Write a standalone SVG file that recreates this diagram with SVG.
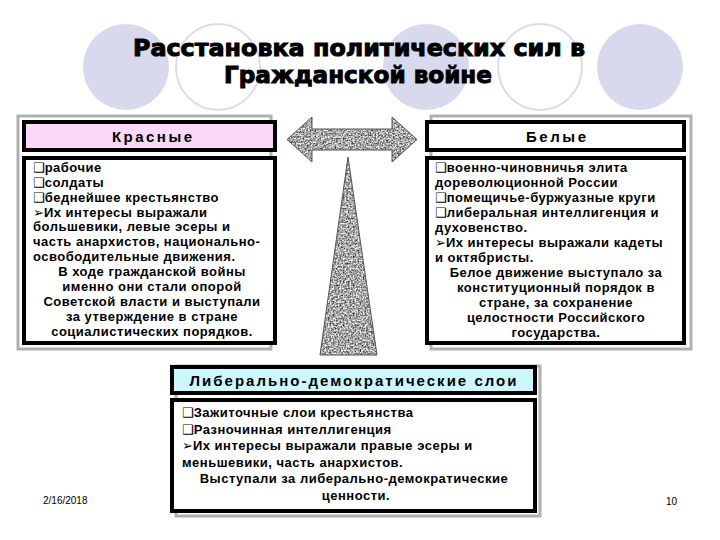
<svg xmlns="http://www.w3.org/2000/svg" width="720" height="540" viewBox="0 0 720 540">
<style>
.title{font-family:"DejaVu Sans","Liberation Sans",sans-serif;font-weight:bold;font-size:23px;fill:#000;stroke:#000;stroke-width:1px;text-anchor:middle}
.hdr{font-family:"Liberation Sans",Arial,sans-serif;font-weight:bold;font-size:15px;fill:#000;text-anchor:middle}
.body{font-family:"Liberation Sans",Arial,sans-serif;font-weight:bold;font-size:13px;fill:#000;letter-spacing:0.5px}
.c{text-anchor:middle}
.bul{font-family:"DejaVu Sans",sans-serif;font-weight:normal;font-size:13px;letter-spacing:0}
.box{stroke:#000;stroke-width:4}
.frame{fill:none;stroke:#b0b0b0;stroke-width:3}
.dot{fill:#d9d9ee}
.ring{fill:#fff;stroke:#dcdce6;stroke-width:2}
.foot{font-family:"Liberation Sans",Arial,sans-serif;font-size:10px;fill:#000}
</style>
<defs>
<filter id="granite" x="0" y="0" width="100%" height="100%" color-interpolation-filters="sRGB">
<feTurbulence type="fractalNoise" baseFrequency="0.6" numOctaves="3" seed="5" result="n"/>
<feColorMatrix in="n" type="matrix" values="1.4 0 0 0 -0.05  1.4 0 0 0 -0.05  1.4 0 0 0 -0.05  0 0 0 0 1" result="g"/>
<feComposite in="g" in2="SourceGraphic" operator="in"/>
</filter>
</defs>
<rect width="720" height="540" fill="#fff"/>
<g id="decor">
<ellipse class="dot" cx="126" cy="67" rx="43" ry="43"/>
<ellipse class="ring" cx="218" cy="67" rx="42" ry="43"/>
<ellipse class="dot" cx="426" cy="67" rx="43" ry="43"/>
<ellipse class="ring" cx="540" cy="67" rx="42" ry="43"/>
<ellipse class="dot" cx="640" cy="67" rx="43" ry="43"/>
</g>
<g id="title">
<text class="title" x="359" y="56" textLength="452" lengthAdjust="spacingAndGlyphs">Расстановка политических сил в</text>
<text class="title" x="358" y="83" textLength="268" lengthAdjust="spacingAndGlyphs">Гражданской войне</text>
</g>
<g id="connectors">
<g filter="url(#granite)">
<polygon points="287,139.5 312,117 312,129 392,129 392,117 417,139.5 392,162 392,150 312,150 312,162" fill="#999"/>
<polygon points="348,157 377,355 320,355" fill="#999"/>
</g>
<polygon points="287,139.5 312,117 312,129 392,129 392,117 417,139.5 392,162 392,150 312,150 312,162" fill="none" stroke="#555" stroke-width="1"/>
<polygon points="348,157 377,355 320,355" fill="none" stroke="#555" stroke-width="1"/>
</g>
<g id="reds">
<rect class="frame" x="18" y="116" width="253" height="233"/>
<rect class="box" x="24" y="122" width="251" height="28" fill="#f9d8f9"/>
<text class="hdr" x="152" y="141.5" textLength="80" lengthAdjust="spacing">Красные</text>
<rect class="box" x="24" y="158" width="251" height="185" fill="#fff"/>
<text class="body" x="33" y="171.5"><tspan class="bul">❑</tspan>рабочие</text>
<text class="body" x="33" y="186.5"><tspan class="bul">❑</tspan>солдаты</text>
<text class="body" x="33" y="201.5"><tspan class="bul">❑</tspan>беднейшее крестьянство</text>
<text class="body" x="33" y="216.5"><tspan class="bul">➢</tspan>Их интересы выражали</text>
<text class="body" x="33" y="231">большевики, левые эсеры и</text>
<text class="body" x="33" y="246">часть анархистов, национально-</text>
<text class="body" x="33" y="261">освободительные движения.</text>
<text class="body c" x="152" y="276">В ходе гражданской войны</text>
<text class="body c" x="152" y="290.5">именно они стали опорой</text>
<text class="body c" x="152" y="305.5">Советской власти и выступали</text>
<text class="body c" x="152" y="320.5">за утверждение в стране</text>
<text class="body c" x="152" y="335.5">социалистических порядков.</text>
</g>
<g id="whites">
<rect class="frame" x="431" y="116" width="260" height="233"/>
<rect class="box" x="427" y="122" width="257" height="28" fill="#fff"/>
<text class="hdr" x="556" y="141.5" textLength="60" lengthAdjust="spacing">Белые</text>
<rect class="box" x="427" y="158" width="257" height="185" fill="#fff"/>
<text class="body" x="435" y="171.7"><tspan class="bul">❑</tspan>военно-чиновничья элита</text>
<text class="body" x="435" y="186.7">дореволюционной России</text>
<text class="body" x="435" y="201.7"><tspan class="bul">❑</tspan>помещичье-буржуазные круги</text>
<text class="body" x="435" y="216.7"><tspan class="bul">❑</tspan>либеральная интеллигенция и</text>
<text class="body" x="435" y="231.7">духовенство.</text>
<text class="body" x="435" y="246.7"><tspan class="bul">➢</tspan>Их интересы выражали кадеты</text>
<text class="body" x="435" y="261.7">и октябристы.</text>
<text class="body c" x="556" y="276.7">Белое движение выступало за</text>
<text class="body c" x="556" y="291.7">конституционный порядок в</text>
<text class="body c" x="556" y="306.7">стране, за сохранение</text>
<text class="body c" x="556" y="321.7">целостности Российского</text>
<text class="body c" x="556" y="336.7">государства.</text>
</g>
<g id="liberals">
<rect class="frame" x="176" y="366" width="364" height="150"/>
<rect class="box" x="172" y="367" width="363" height="26" fill="#ccf7ff"/>
<text class="hdr" x="353" y="386" textLength="327" lengthAdjust="spacing">Либерально-демократические слои</text>
<rect class="box" x="172" y="400" width="363" height="111" fill="#fff"/>
<text class="body" x="182" y="417"><tspan class="bul">❑</tspan>Зажиточные слои крестьянства</text>
<text class="body" x="182" y="433.5"><tspan class="bul">❑</tspan>Разночинная интеллигенция</text>
<text class="body" x="182" y="450"><tspan class="bul">➢</tspan>Их интересы выражали правые эсеры и</text>
<text class="body" x="182" y="466.5">меньшевики, часть анархистов.</text>
<text class="body c" x="354" y="483">Выступали за либерально-демократические</text>
<text class="body c" x="356" y="499.5">ценности.</text>
</g>
<g id="footer">
<text class="foot" x="43" y="504">2/16/2018</text>
<text class="foot" x="666" y="505">10</text>
</g>
</svg>
